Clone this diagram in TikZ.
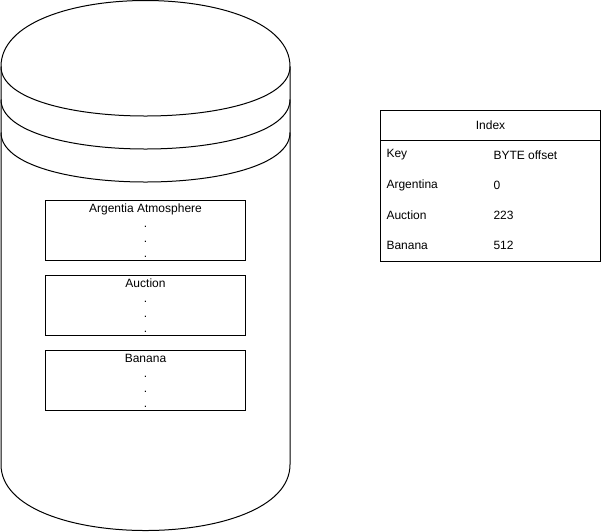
\documentclass[tikz,border=0pt]{standalone}
\usepackage{fontspec}
\setmainfont{Liberation Sans}
\begin{document}
\begin{tikzpicture}[x=1pt,y=-1pt,line width=1pt,
  txt/.style={font=\fontsize{12}{15}\selectfont,text=black},
  recbox/.style={draw,txt,minimum width=200pt,minimum height=60pt,inner sep=0pt,align=center,anchor=north west},
  hdrbox/.style={draw,txt,minimum width=220pt,minimum height=30pt,inner sep=0pt,anchor=north west},
  bodybox/.style={draw,minimum width=220pt,minimum height=121pt,inner sep=0pt,anchor=north west},
  cell/.style={txt,inner sep=0pt,anchor=west}]
\useasboundingbox (0,0) rectangle (601,531);
% data store cylinder
\draw[fill=white] (1,66.5) .. controls (1,-21.5) and (290,-21.5) .. (290,66.5)
  -- (290,464.5) .. controls (290,552.5) and (1,552.5) .. (1,464.5) -- cycle;
\draw (1,66.5) .. controls (1,132.5) and (290,132.5) .. (290,66.5);
\draw (1,99.5) .. controls (1,165.5) and (290,165.5) .. (290,99.5);
\draw (1,132.5) .. controls (1,198.5) and (290,198.5) .. (290,132.5);
% records
\node[recbox] (r1) at (45,200) {Argentia Atmosphere\\.\\.\\.};
\node[recbox] (r2) at (45,275) {Auction\\.\\.\\.};
\node[recbox] (r3) at (45,350) {Banana\\.\\.\\.};
% index table
\node[hdrbox] (hdr) at (380,110) {Index};
\node[bodybox] (body) at (380,140) {};
\node[cell] (k0) at (386,155) {Key};
\node[cell] (v0) at (493,155) {BYTE offset};
\node[cell] (k1) at (386,185) {Argentina};
\node[cell] (v1) at (493,185) {0};
\node[cell] (k2) at (386,215) {Auction};
\node[cell] (v2) at (493,215) {223};
\node[cell] (k3) at (386,245) {Banana};
\node[cell] (v3) at (493,245) {512};
\end{tikzpicture}
\end{document}
